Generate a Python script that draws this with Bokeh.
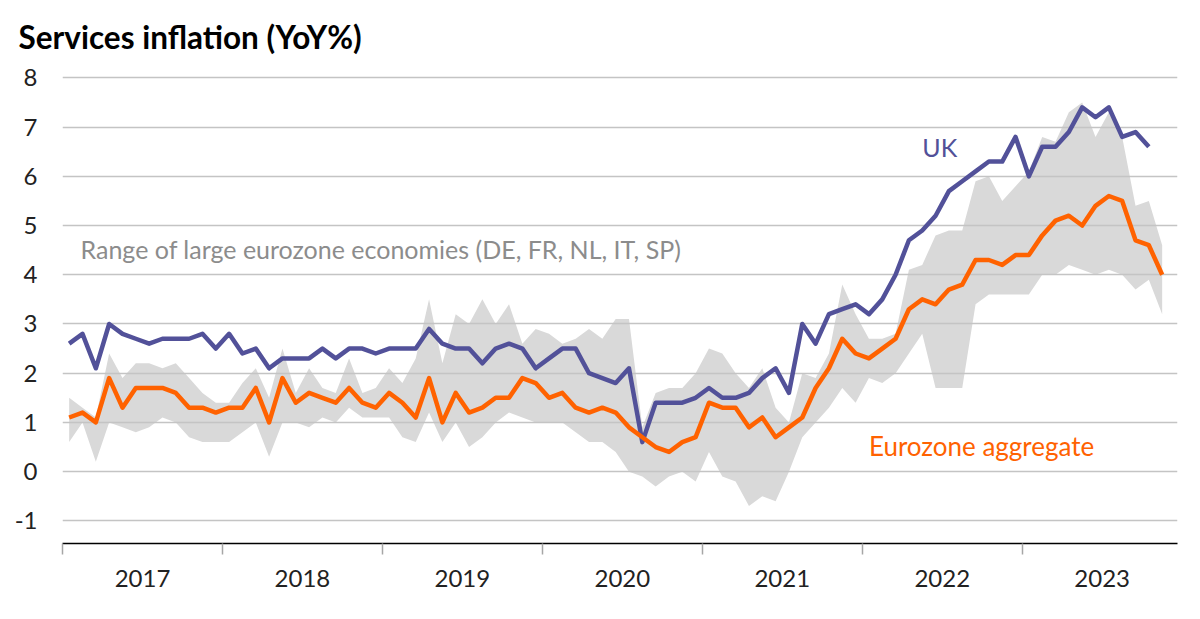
from bokeh.plotting import figure
from bokeh.models import Range1d, FixedTicker, Label
from bokeh.embed import file_html
from bokeh.resources import INLINE

# ---- data (monthly, Jan 2017 = month 0) ----
years = ["2017", "2018", "2019", "2020", "2021", "2022", "2023"]

uk = [2.6, 2.8, 2.1, 3.0, 2.8, 2.7, 2.6, 2.7, 2.7, 2.7, 2.8, 2.5,
      2.8, 2.4, 2.5, 2.1, 2.3, 2.3, 2.3, 2.5, 2.3, 2.5, 2.5, 2.4,
      2.5, 2.5, 2.5, 2.9, 2.6, 2.5, 2.5, 2.2, 2.5, 2.6, 2.5, 2.1,
      2.3, 2.5, 2.5, 2.0, 1.9, 1.8, 2.1, 0.6, 1.4, 1.4, 1.4, 1.5,
      1.7, 1.5, 1.5, 1.6, 1.9, 2.1, 1.6, 3.0, 2.6, 3.2, 3.3, 3.4,
      3.2, 3.5, 4.0, 4.7, 4.9, 5.2, 5.7, 5.9, 6.1, 6.3, 6.3, 6.8,
      6.0, 6.6, 6.6, 6.9, 7.4, 7.2, 7.4, 6.8, 6.9, 6.6]

ez = [1.1, 1.2, 1.0, 1.9, 1.3, 1.7, 1.7, 1.7, 1.6, 1.3, 1.3, 1.2,
      1.3, 1.3, 1.7, 1.0, 1.9, 1.4, 1.6, 1.5, 1.4, 1.7, 1.4, 1.3,
      1.6, 1.4, 1.1, 1.9, 1.0, 1.6, 1.2, 1.3, 1.5, 1.5, 1.9, 1.8,
      1.5, 1.6, 1.3, 1.2, 1.3, 1.2, 0.9, 0.7, 0.5, 0.4, 0.6, 0.7,
      1.4, 1.3, 1.3, 0.9, 1.1, 0.7, 0.9, 1.1, 1.7, 2.1, 2.7, 2.4,
      2.3, 2.5, 2.7, 3.3, 3.5, 3.4, 3.7, 3.8, 4.3, 4.3, 4.2, 4.4,
      4.4, 4.8, 5.1, 5.2, 5.0, 5.4, 5.6, 5.5, 4.7, 4.6, 4.0]

range_high = [1.5, 1.3, 1.1, 2.4, 1.9, 2.2, 2.2, 2.1, 2.2, 1.9, 1.6, 1.4,
              1.4, 1.8, 2.1, 1.5, 2.5, 1.6, 2.1, 1.7, 1.6, 2.3, 1.6, 1.7,
              2.1, 1.8, 2.3, 3.5, 2.2, 3.2, 3.0, 3.5, 3.0, 3.4, 2.6, 2.9,
              2.8, 2.6, 2.7, 2.9, 2.7, 3.1, 3.1, 0.9, 1.6, 1.7, 1.7, 2.0,
              2.5, 2.4, 2.0, 1.7, 2.1, 1.3, 1.0, 2.0, 1.9, 2.4, 3.8, 3.2,
              2.7, 2.7, 2.8, 4.1, 4.2, 4.8, 4.9, 4.9, 5.9, 6.0, 5.5, 5.8,
              6.1, 6.8, 6.7, 7.3, 7.5, 6.8, 7.3, 6.8, 5.4, 5.5, 4.6]

range_low = [0.6, 1.0, 0.2, 1.0, 0.9, 0.8, 0.9, 1.1, 1.0, 0.7, 0.6, 0.6,
             0.6, 0.8, 1.0, 0.3, 1.0, 1.0, 0.9, 1.1, 1.0, 1.3, 1.1, 1.1,
             1.1, 0.7, 0.6, 1.2, 0.6, 1.0, 0.5, 0.7, 1.0, 1.2, 1.1, 1.0,
             1.0, 1.0, 0.8, 0.6, 0.6, 0.4, 0.0, -0.1, -0.3, -0.1, 0.0, -0.2,
             0.4, -0.1, -0.2, -0.7, -0.5, -0.6, 0.0, 0.7, 1.0, 1.3, 1.7, 1.4,
             1.9, 1.8, 2.0, 2.4, 2.8, 1.7, 1.7, 1.7, 3.4, 3.6, 3.6, 3.6,
             3.6, 4.0, 4.0, 4.2, 4.1, 4.0, 4.1, 4.0, 3.7, 3.9, 3.2]

y_ticks = [-1, 0, 1, 2, 3, 4, 5, 6, 7, 8]

x_uk = [m + 0.5 for m in range(len(uk))]
x_ez = [m + 0.5 for m in range(len(ez))]
x_rng = [m + 0.5 for m in range(len(range_low))]

FONT = "Lato"
UK_COL = "#525199"
EZ_COL = "#FF6200"

p = figure(width=1184, height=603, output_backend="svg", toolbar_location=None,
           x_range=Range1d(0, 83.65), y_range=Range1d(-1.46, 8.15),
           min_border_left=62, min_border_right=7, min_border_top=70,
           min_border_bottom=60)
p.outline_line_color = None
p.background_fill_color = "white"

# title
p.title.text = "Services inflation (YoY%)"
p.title.text_font = FONT
p.title.text_font_style = "bold"
p.title.text_font_size = "31.5px"
p.title.text_color = "black"
p.title.align = "left"
p.title.offset = -44
p.title.standoff = 30

# band
p.varea(x=x_rng, y1=range_low, y2=range_high, fill_color="#D9D9D9", level="image")

p.line(x_uk, uk, line_color=UK_COL, line_width=4.5, line_join="round")
p.line(x_ez, ez, line_color=EZ_COL, line_width=4.5, line_join="round")

# grid
p.xgrid.grid_line_color = None
p.ygrid.ticker = FixedTicker(ticks=y_ticks)
p.ygrid.grid_line_color = "#C4C4C4"
p.ygrid.grid_line_width = 1.5

# y axis
p.yaxis.ticker = FixedTicker(ticks=y_ticks)
p.yaxis.major_label_overrides = {t: str(t) for t in y_ticks}
p.yaxis.axis_line_color = None
p.yaxis.major_tick_line_color = None
p.yaxis.minor_tick_line_color = None
p.yaxis.major_tick_out = 0
p.yaxis.major_label_standoff = 25
p.yaxis.major_label_text_font = FONT
p.yaxis.major_label_text_font_size = "24px"
p.yaxis.major_label_text_color = "#222222"

# x axis
mids = [6 + 12 * i for i in range(len(years))]
bounds = [12 * i for i in range(len(years) + 1)]
p.xaxis.ticker = FixedTicker(ticks=mids, minor_ticks=bounds)
p.xaxis.major_label_overrides = {m: y for m, y in zip(mids, years)}
p.xaxis.axis_line_color = "black"
p.xaxis.axis_line_width = 1.5
p.xaxis.major_tick_line_color = None
p.xaxis.major_tick_out = 0
p.xaxis.major_tick_in = 0
p.xaxis.minor_tick_line_color = "#A6A6A6"
p.xaxis.minor_tick_line_width = 1.5
p.xaxis.minor_tick_out = 11
p.xaxis.minor_tick_in = 0
p.xaxis.major_label_standoff = 15
p.xaxis.major_label_text_font = FONT
p.xaxis.major_label_text_font_size = "24px"
p.xaxis.major_label_text_color = "#222222"

# texts
p.add_layout(Label(x=1.35, y=4.53, text="Range of large eurozone economies (DE, FR, NL, IT, SP)",
                   text_font=FONT, text_font_size="25px", text_color="#8C8C8C",
                   text_baseline="alphabetic"))
p.add_layout(Label(x=64.5, y=6.60, text="UK", text_font=FONT, text_font_size="25px",
                   text_color=UK_COL, text_baseline="alphabetic"))
p.add_layout(Label(x=60.5, y=0.52, text="Eurozone aggregate", text_font=FONT,
                   text_font_size="26px", text_color=EZ_COL, text_baseline="alphabetic"))

open("out.html", "w").write(file_html(p, INLINE))
